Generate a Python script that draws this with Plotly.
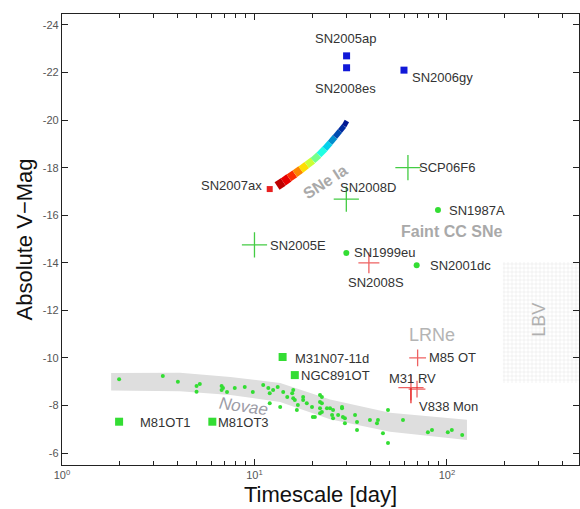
import numpy as np
import plotly.graph_objects as go
from plotly.colors import sample_colorscale

# ---- data: timescale [day] and absolute V magnitude ----
blue_names = ["SN2005ap", "SN2008es", "SN2006gy"]
blue_days = [30.1, 30.1, 59.8]
blue_mag = [-22.70, -22.20, -22.10]

ax_name = ["SN2007ax"]
ax_days = [12.0]
ax_mag = [-17.10]

green_cross_names = ["SCP06F6", "SN2008D", "SN2005E"]
green_cross_days = [62.7, 30.0, 10.0]
green_cross_mag = [-18.00, -16.68, -14.75]

green_dot_names = ["SN1987A", "SN1999eu", "SN2001dc"]
green_dot_days = [89.8, 30.0, 69.6]
green_dot_mag = [-16.22, -14.41, -13.90]

green_sq_names = ["M31N07-11d", "NGC891OT", "M81OT1", "M81OT3"]
green_sq_days = [14.0, 16.2, 1.98, 6.04]
green_sq_mag = [-10.04, -9.28, -7.32, -7.32]

red_cross_names = ["SN2008S", "M85 OT", "M31 RV", "V838 Mon"]
red_cross_days = [39.3, 70.4, 65.0, 69.9]
red_cross_mag = [-14.00, -10.00, -8.75, -8.69]
red_cross_size = [15, 12, 18, 12]
red_cross_err_down = [0.0, 0.0, 0.65, 0.0]

# SNe Ia width-luminosity band
snia_days = [13.1, 14.1, 15.1, 16.2, 17.4, 18.7, 20.1, 21.6, 23.2, 24.7, 26.2, 27.8, 29.2, 30.2]
snia_mag = [-17.23, -17.40, -17.57, -17.74, -17.92, -18.11, -18.30, -18.53,
            -18.79, -19.04, -19.29, -19.54, -19.75, -19.96]

# classical novae
nova_days = [1.98, 3.34, 4.0, 5.0, 5.2, 5.0, 6.75, 6.75, 6.86, 7.2, 7.9, 8.9, 9.8, 11.1,
             11.8, 12.0, 12.5, 13.2, 14.1, 14.8, 15.7, 16.2, 16.8, 17.9, 18.7, 19.9,
             21.9, 21.9, 21.9, 21.9, 23.8, 25.6, 27.2, 28.5, 29.5, 20.6, 12.0, 13.6,
             16.6, 15.9, 15.9, 17.9, 20.1, 22.4, 22.4, 22.4, 24.7, 25.3, 25.6, 28.5,
             28.8, 29.5, 33.3, 34.1, 34.1, 39.8, 43.3, 43.8, 46.5, 49.4, 49.4, 59.1,
             79.6, 83.6, 101, 106, 120]
nova_mag = [-9.11, -9.24, -9.00, -8.82, -8.90, -8.58, -8.82, -8.65, -8.74, -8.57, -8.74,
            -8.78, -8.57, -8.86, -8.74, -8.52, -8.65, -8.78, -8.57, -8.36, -8.52, -8.23,
            -8.02, -8.36, -8.10, -7.94, -8.44, -8.15, -7.89, -7.68, -7.89, -7.81, -7.60,
            -7.94, -7.47, -7.52, -8.10, -7.94, -7.81, -8.65, -8.31, -8.23, -7.52, -8.36,
            -8.10, -7.73, -7.89, -7.60, -7.47, -7.89, -7.52, -7.26, -7.60, -7.31, -6.97,
            -7.39, -7.26, -7.39, -6.84, -7.81, -6.42, -7.39, -6.88, -6.97, -6.88, -6.97,
            -6.76]

nova_band_days = [1.8, 4.1, 7.5, 13.6, 24.7, 50.6, 127]
nova_band_bright = [-9.37, -9.38, -9.20, -8.95, -8.25, -7.70, -7.40]
nova_band_faint = [-8.63, -8.60, -8.44, -8.15, -7.42, -6.90, -6.55]

lbv_days = [195, 700]
lbv_mag = [-14.03, -8.95]

x_tick_vals = [1, 10, 100]
x_tick_text = ["10<sup>0</sup>", "10<sup>1</sup>", "10<sup>2</sup>"]
y_tick_vals = [-24, -22, -20, -18, -16, -14, -12, -10, -8, -6]
y_tick_text = ["-24", "-22", "-20", "-18", "-16", "-14", "-12", "-10", "-8", "-6"]

# ---- styling ----
FONT = "Liberation Sans, Arial, sans-serif"
GREEN = "#33dd33"
RED = "#e82020"
BLUE = "#1018d8"
LABEL = "#333333"
REGION = "#a9a9a9"

fig = go.Figure()

# LBV region (dotted grid)
fig.add_trace(go.Scatter(
    x=[lbv_days[0], lbv_days[1], lbv_days[1], lbv_days[0], lbv_days[0]],
    y=[lbv_mag[0], lbv_mag[0], lbv_mag[1], lbv_mag[1], lbv_mag[0]],
    mode="lines", fill="toself", line=dict(width=0),
    fillcolor="rgba(0,0,0,0)",
    fillpattern=dict(shape="+", size=4, solidity=0.25, fgcolor="#cfcfcf", bgcolor="white"),
    hoverinfo="skip", showlegend=False))

# novae band
fig.add_trace(go.Scatter(
    x=nova_band_days + nova_band_days[::-1],
    y=nova_band_bright + nova_band_faint[::-1],
    mode="lines", fill="toself", fillcolor="#dedede", line=dict(width=0),
    hoverinfo="skip", showlegend=False))

# novae
fig.add_trace(go.Scatter(x=nova_days, y=nova_mag, mode="markers",
                         marker=dict(color=GREEN, size=4, line=dict(width=0)),
                         showlegend=False))

# SNe Ia band, coloured along its length
n_seg = len(snia_days) - 1
seg_colors = sample_colorscale("Jet", list(np.linspace(0.9, 0.08, n_seg)))
seg_widths = np.linspace(9, 5, n_seg)
for i in range(n_seg):
    fig.add_trace(go.Scatter(x=snia_days[i:i + 2], y=snia_mag[i:i + 2], mode="lines",
                             line=dict(color=seg_colors[i], width=float(seg_widths[i])),
                             hoverinfo="skip", showlegend=False))

# marks
fig.add_trace(go.Scatter(x=blue_days, y=blue_mag, mode="markers",
                         marker=dict(symbol="square", size=7, color=BLUE), showlegend=False))
fig.add_trace(go.Scatter(x=ax_days, y=ax_mag, mode="markers",
                         marker=dict(symbol="square", size=6, color=RED), showlegend=False))
fig.add_trace(go.Scatter(x=green_cross_days, y=green_cross_mag, mode="markers",
                         marker=dict(symbol="cross-thin", size=18,
                                     line=dict(color="#44cc44", width=1.3)),
                         showlegend=False))
fig.add_trace(go.Scatter(x=green_dot_days, y=green_dot_mag, mode="markers",
                         marker=dict(symbol="circle", size=6, color=GREEN), showlegend=False))
fig.add_trace(go.Scatter(x=green_sq_days, y=green_sq_mag, mode="markers",
                         marker=dict(symbol="square", size=8, color=GREEN), showlegend=False))
fig.add_trace(go.Scatter(x=red_cross_days, y=red_cross_mag, mode="markers",
                         marker=dict(symbol="cross-thin", size=red_cross_size,
                                     line=dict(color=RED, width=1.3)),
                         error_y=dict(type="data", symmetric=False, array=red_cross_err_down,
                                      arrayminus=[0] * len(red_cross_err_down),
                                      color=RED, thickness=1.2, width=0),
                         showlegend=False))


def label(text, days, mag, xanchor, yanchor, xshift=0, yshift=0):
    fig.add_annotation(x=np.log10(days), y=mag, text=text, showarrow=False,
                       xanchor=xanchor, yanchor=yanchor, xshift=xshift, yshift=yshift,
                       font=dict(family=FONT, size=13, color=LABEL))


label(blue_names[0], blue_days[0], blue_mag[0], "center", "bottom", -1, 8)
label(blue_names[1], blue_days[1], blue_mag[1], "center", "top", -1, -11)
label(blue_names[2], blue_days[2], blue_mag[2], "left", "middle", 6, -7)
label(ax_name[0], ax_days[0], ax_mag[0], "right", "middle", -6, 4)
label(green_cross_names[0], green_cross_days[0], green_cross_mag[0], "left", "middle", 9, 0)
label(green_cross_names[1], green_cross_days[1], green_cross_mag[1], "left", "middle", -8, 12)
label(green_cross_names[2], green_cross_days[2], green_cross_mag[2], "left", "middle", 14, -1)
label(green_dot_names[0], green_dot_days[0], green_dot_mag[0], "left", "middle", 9, 0)
label(green_dot_names[1], green_dot_days[1], green_dot_mag[1], "left", "middle", 6, 1)
label(green_dot_names[2], green_dot_days[2], green_dot_mag[2], "left", "middle", 11, 0)
label(green_sq_names[0], green_sq_days[0], green_sq_mag[0], "left", "middle", 10, -1)
label(green_sq_names[1], green_sq_days[1], green_sq_mag[1], "left", "middle", 4, 0)
label(green_sq_names[2], green_sq_days[2], green_sq_mag[2], "left", "middle", 19, -1)
label(green_sq_names[3], green_sq_days[3], green_sq_mag[3], "left", "middle", 4, -1)
label(red_cross_names[0], red_cross_days[0], red_cross_mag[0], "center", "top", 7, -10)
label(red_cross_names[1], red_cross_days[1], red_cross_mag[1], "left", "middle", 9, 0)
label(red_cross_names[2], red_cross_days[2], red_cross_mag[2], "center", "middle", 2, 9)
label(red_cross_names[3], red_cross_days[3], red_cross_mag[3], "left", "middle", 0, -17)

# region labels
fig.add_annotation(x=np.log10(23.5), y=-17.4, text="<b>SNe Ia</b>", showarrow=False,
                   textangle=-33, font=dict(family=FONT, size=16, color=REGION))
fig.add_annotation(x=np.log10(106.0), y=-15.3, text="<b>Faint CC SNe</b>", showarrow=False,
                   font=dict(family=FONT, size=16, color=REGION))
fig.add_annotation(x=np.log10(84.0), y=-10.96, text="LRNe", showarrow=False,
                   font=dict(family=FONT, size=18, color="#b4b4b4"))
fig.add_annotation(x=np.log10(8.8), y=-7.98, text="<i>Novae</i>", showarrow=False,
                   textangle=8, font=dict(family=FONT, size=17, color="#9c9ca6"))
fig.add_annotation(x=np.log10(300.0), y=-11.6, text="LBV", showarrow=False,
                   textangle=-90, font=dict(family=FONT, size=18, color="#b0b0b0"))

minor_vals = [k * 10 ** d for d in range(0, 3) for k in range(2, 10)]

fig.update_xaxes(
    type="log", range=[0, 2.686],
    tickvals=x_tick_vals, ticktext=x_tick_text,
    ticks="inside", ticklen=6, tickwidth=1, tickcolor="#222",
    minor=dict(tickvals=minor_vals, ticks="inside", ticklen=4, tickcolor="#222", showgrid=False),
    showline=True, linecolor="#222", linewidth=1.3, mirror="allticks",
    showgrid=False, zeroline=False,
    tickfont=dict(family=FONT, size=11, color="#555"),
    title=dict(text="Timescale [day]", font=dict(family=FONT, size=22, color="#111"), standoff=6),
)
fig.update_yaxes(
    range=[-5.5, -24.46],
    tickvals=y_tick_vals, ticktext=y_tick_text,
    ticks="inside", ticklen=6, tickwidth=1, tickcolor="#222",
    showline=True, linecolor="#222", linewidth=1.3, mirror="allticks",
    showgrid=False, zeroline=False,
    tickfont=dict(family=FONT, size=11, color="#555"),
    title=dict(text="Absolute V\u2212Mag", font=dict(family=FONT, size=22, color="#111"), standoff=4),
)
fig.update_layout(
    width=580, height=509,
    margin=dict(l=62, r=1, t=14, b=44),
    paper_bgcolor="white", plot_bgcolor="white",
    showlegend=False,
)

fig.write_html("out.html")
